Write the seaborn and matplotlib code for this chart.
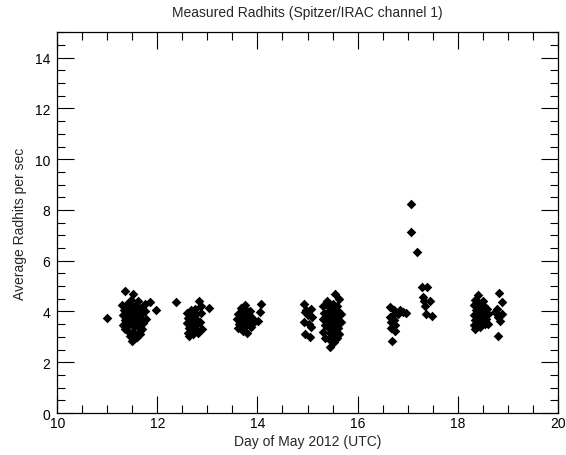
import numpy as np
import pandas as pd
import seaborn as sns
import matplotlib.pyplot as plt
from matplotlib.ticker import MultipleLocator

# cluster by cluster (day of May 2012, radhits/sec)
day_11 = [11.00, 11.35, 11.52, 11.62, 11.85, 11.97, 11.50,
          11.30, 11.33, 11.31, 11.35, 11.32, 11.36,
          11.40, 11.42, 11.44, 11.40, 11.43, 11.41, 11.45,
          11.48, 11.50, 11.49, 11.52, 11.50, 11.53, 11.51, 11.55,
          11.58, 11.60, 11.59, 11.62, 11.60, 11.63, 11.60,
          11.68, 11.70, 11.68, 11.72, 11.70, 11.66,
          11.76, 11.78, 11.75, 12.37]
hits_11 = [3.74, 4.80, 4.67, 4.40, 4.37, 4.04, 2.85,
           4.25, 4.05, 3.85, 3.65, 3.45, 3.30,
           4.30, 4.10, 3.90, 3.70, 3.50, 3.25, 3.05,
           4.45, 4.20, 4.00, 3.80, 3.60, 3.40, 3.15, 2.95,
           4.25, 4.05, 3.85, 3.65, 3.45, 3.20, 3.00,
           4.15, 3.95, 3.75, 3.55, 3.30, 3.10,
           4.00, 3.70, 4.30, 4.39]

day_12 = [12.60, 12.62, 12.60, 12.63, 12.61, 12.64,
          12.68, 12.70, 12.68, 12.71, 12.69, 12.72,
          12.76, 12.78, 12.77, 12.80, 12.78, 12.82,
          12.83, 12.87, 12.88, 12.86, 12.90, 13.03]
hits_12 = [3.95, 3.75, 3.55, 3.35, 3.15, 3.05,
           4.05, 3.85, 3.65, 3.45, 3.25, 3.10,
           4.10, 3.90, 3.70, 3.50, 3.30, 3.15,
           4.43, 4.20, 3.95, 3.60, 3.30, 4.13]

day_13 = [13.62, 13.60, 13.63, 13.61, 13.68, 13.70, 13.67, 13.71, 13.69, 13.72,
          13.76, 13.78, 13.77, 13.80, 13.78, 13.80, 13.85, 13.87, 13.84, 13.88,
          13.90, 13.92, 14.08, 14.05, 14.02]
hits_13 = [3.90, 3.70, 3.50, 3.35, 4.15, 3.95, 3.75, 3.55, 3.40, 3.25,
           4.25, 4.05, 3.85, 3.65, 3.45, 3.15, 4.00, 3.80, 3.60, 3.40,
           3.75, 3.55, 4.30, 3.97, 3.64]

day_15 = [14.94, 15.06, 14.96, 15.08, 14.93, 15.06, 14.96, 15.00, 15.02, 14.98, 15.05,
          15.54, 15.38, 15.45, 15.62, 15.30, 15.33, 15.30, 15.34, 15.31, 15.35,
          15.40, 15.42, 15.40, 15.43, 15.41, 15.44, 15.42,
          15.50, 15.52, 15.50, 15.53, 15.51, 15.54, 15.50, 15.52,
          15.58, 15.60, 15.59, 15.62, 15.60, 15.63, 15.58, 15.66, 15.67]
hits_15 = [4.30, 4.10, 3.97, 3.77, 3.57, 3.37, 3.10, 3.85, 3.50, 4.05, 2.98,
           4.69, 4.43, 2.59, 4.50, 4.20, 3.95, 3.70, 3.45, 3.20, 2.95,
           4.20, 4.00, 3.80, 3.60, 3.40, 3.15, 2.90,
           4.30, 4.10, 3.90, 3.70, 3.50, 3.30, 3.05, 2.80,
           4.20, 4.00, 3.80, 3.60, 3.35, 3.10, 2.95, 3.90, 3.60]

day_17 = [16.65, 16.91, 16.65, 16.66, 16.67, 16.68, 16.72, 16.70, 16.72, 16.74,
          16.80, 16.85, 16.96, 16.75,
          17.07, 17.07, 17.18, 17.28, 17.38, 17.31, 17.45, 17.35, 17.37, 17.48, 17.33]
hits_17 = [4.17, 3.97, 3.77, 3.58, 3.34, 2.85, 4.05, 3.85, 3.65, 3.45,
           3.90, 4.05, 3.95, 3.25,
           8.22, 7.13, 6.36, 4.96, 4.96, 4.56, 4.43, 4.23, 3.90, 3.84, 4.40]

day_18 = [18.41, 18.35, 18.33, 18.36, 18.32, 18.35, 18.33, 18.35,
          18.42, 18.44, 18.41, 18.44, 18.42, 18.45,
          18.50, 18.52, 18.50, 18.53, 18.51, 18.55,
          18.58, 18.60, 18.61, 18.57,
          18.83, 18.88, 18.75, 18.88, 18.85, 18.81, 18.78, 18.80]
hits_18 = [4.63, 4.45, 4.25, 4.05, 3.85, 3.65, 3.45, 3.31,
           4.35, 4.15, 3.95, 3.75, 3.55, 3.40,
           4.40, 4.20, 4.00, 3.80, 3.60, 3.50,
           4.10, 3.90, 3.51, 3.70,
           4.73, 4.37, 3.97, 3.90, 3.64, 3.05, 4.10, 3.80]

df = pd.DataFrame({
    'day': day_11 + day_12 + day_13 + day_15 + day_17 + day_18,
    'hits': hits_11 + hits_12 + hits_13 + hits_15 + hits_17 + hits_18,
})

sns.set_style('ticks')
plt.rcParams['font.family'] = ['Liberation Sans', 'DejaVu Sans']

fig = plt.figure(figsize=(5.66, 4.56), dpi=100)
ax = fig.add_axes([57.3 / 566, 1 - 414 / 456, 500.4 / 566, 380.7 / 456])

sns.scatterplot(data=df, x='day', y='hits', marker='D', color='black',
                s=24, linewidth=0, ax=ax)

ax.set_xlim(10, 20)
ax.set_ylim(0, 15)
ax.xaxis.set_major_locator(MultipleLocator(2))
ax.xaxis.set_minor_locator(MultipleLocator(0.5))
ax.yaxis.set_major_locator(MultipleLocator(2))
ax.yaxis.set_minor_locator(MultipleLocator(0.5))
ax.tick_params(which='both', direction='in', top=True, right=True,
               width=0.8, colors='black', labelsize=10)
ax.tick_params(which='major', length=12)
ax.tick_params(which='minor', length=6)
ax.tick_params(axis='x', pad=2)
ax.tick_params(axis='y', pad=5)
for sp in ax.spines.values():
    sp.set_linewidth(0.9)
    sp.set_color('black')

ax.set_xlabel('Day of May 2012 (UTC)', fontsize=10, labelpad=3)
ax.set_ylabel('Average Radhits per sec', fontsize=10, labelpad=6)
ax.set_title('Measured Radhits (Spitzer/IRAC channel 1)', fontsize=10, pad=12)

fig.savefig('out.png', dpi=100)
